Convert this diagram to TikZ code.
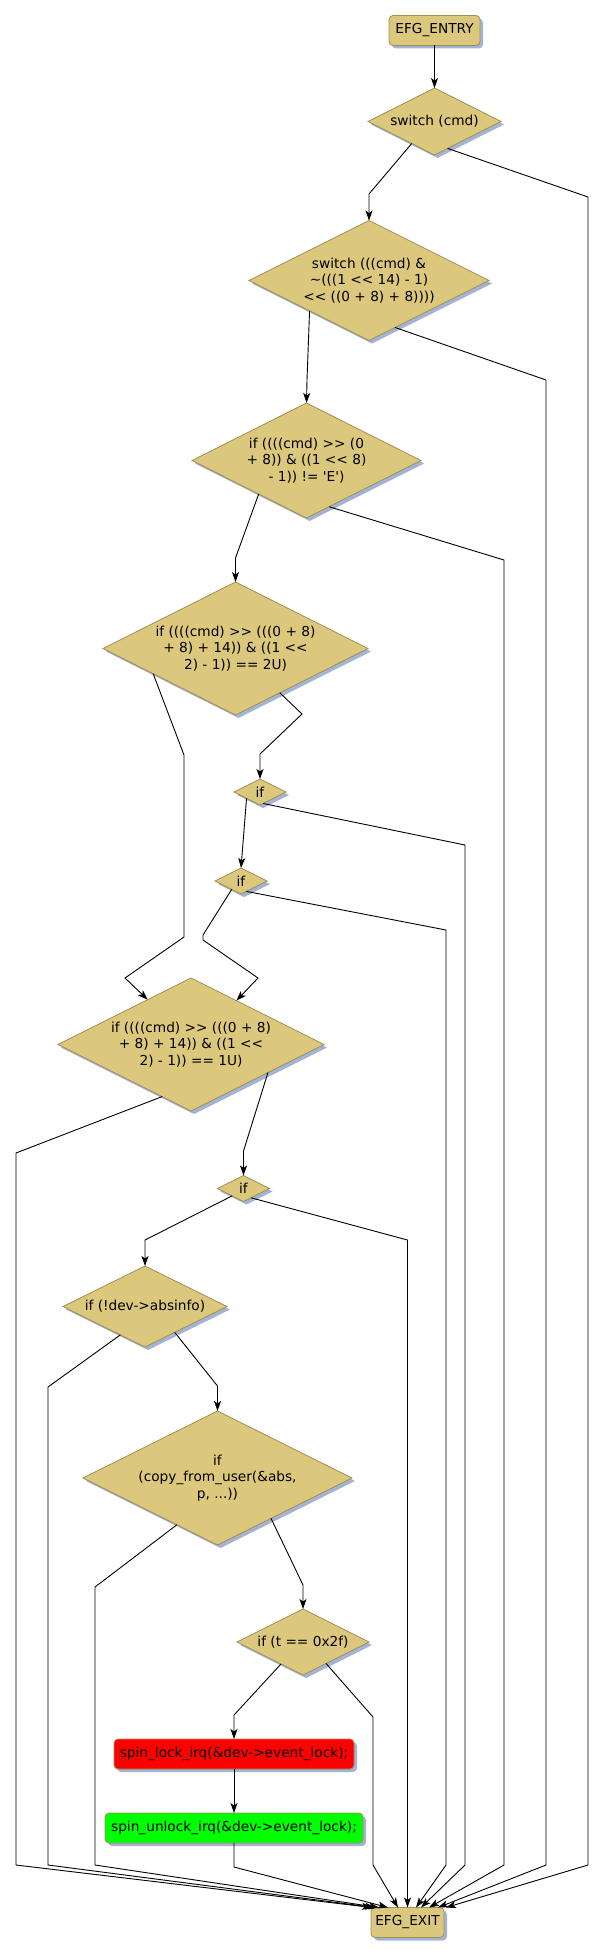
\documentclass[tikz,border=0pt]{standalone}
\usepackage{fontspec}
\setmainfont{DejaVu Sans}
\usetikzlibrary{arrows.meta,shapes.geometric,shadows}
\definecolor{tanfill}{HTML}{DCC87D}
\definecolor{tanline}{HTML}{A08F55}
\definecolor{shade}{HTML}{A3B3D3}
\definecolor{redfill}{HTML}{FF0000}
\definecolor{greenfill}{HTML}{00FF00}
\begin{document}
\begin{tikzpicture}[x=1pt,y=-1pt,
  shadowed/.style={drop shadow={shadow xshift=3pt,shadow yshift=-3pt,fill=shade,opacity=1}},
  dia/.style={diamond,draw=tanline,fill=tanfill,line width=0.8pt,inner sep=0pt,outer sep=0pt,shadowed},
  box/.style={rectangle,rounded corners=4pt,draw=tanline,fill=tanfill,line width=0.8pt,inner sep=0pt,outer sep=0pt,shadowed,minimum height=30pt,font=\fontsize{13.7}{16.5}\selectfont},
  txt/.style={font=\fontsize{13.7}{16.5}\selectfont,align=center,inner sep=0pt},
  conn/.style={line width=0.9pt,-{Stealth[length=10pt,width=7pt,inset=2.5pt]}}
]
\useasboundingbox (0,0) rectangle (604,1956);

% nodes
\node[box,minimum width=91pt] (entry) at (434.5,30.5) {EFG\_ENTRY};

\node[dia,minimum width=133pt,minimum height=67pt] (d1) at (434.5,121.5) {};
\node[txt] (t1) at (d1.center) {switch (cmd)};

\node[dia,minimum width=240pt,minimum height=120pt] (d2) at (369,280.5) {};
\node[txt] (t2) at (d2.center) {switch (((cmd) \&\\\textasciitilde(((1 <{}< 14) - 1)\\<{}< ((0 + 8) + 8))))};

\node[dia,minimum width=229pt,minimum height=115pt] (d3) at (306.5,460.5) {};
\node[txt] (t3) at (d3.center) {if ((((cmd) >{}> (0\\+ 8)) \& ((1 <{}< 8)\\- 1)) != \textquotesingle E\textquotesingle)};

\node[dia,minimum width=265pt,minimum height=133pt] (d4) at (235.5,648.5) {};
\node[txt] (t4) at (d4.center) {if ((((cmd) >{}> (((0 + 8)\\+ 8) + 14)) \& ((1 <{}<\\2) - 1)) == 2U)};

\node[dia,minimum width=52pt,minimum height=26pt] (d5) at (260,792) {};
\node[txt] (t5) at (d5.center) {if};

\node[dia,minimum width=52pt,minimum height=26pt] (d6) at (241,881) {};
\node[txt] (t6) at (d6.center) {if};

\node[dia,minimum width=266pt,minimum height=133pt] (d7) at (191,1044.5) {};
\node[txt] (t7) at (d7.center) {if ((((cmd) >{}> (((0 + 8)\\+ 8) + 14)) \& ((1 <{}<\\2) - 1)) == 1U)};

\node[dia,minimum width=52pt,minimum height=26pt] (d8) at (243.5,1188.5) {};
\node[txt] (t8) at (d8.center) {if};

\node[dia,minimum width=164pt,minimum height=81pt] (d9) at (145,1306.5) {};
\node[txt] (t9) at (d9.center) {if (!dev->absinfo)};

\node[dia,minimum width=269pt,minimum height=134pt] (d10) at (217.5,1478) {};
\node[txt] (t10) at (d10.center) {if\\(copy\_from\_user(\&abs,\\p, ...))};

\node[dia,minimum width=132pt,minimum height=66pt] (d11) at (303,1642) {};
\node[txt] (t11) at (d11.center) {if (t == 0x2f)};

\node[box,fill=redfill,minimum width=240pt] (lock) at (234,1754) {spin\_lock\_irq(\&dev->event\_lock);};
\node[box,fill=greenfill,minimum width=258pt] (unlock) at (234,1828) {spin\_unlock\_irq(\&dev->event\_lock);};

\node[box,minimum width=73pt] (exit) at (407.5,1922.5) {EFG\_EXIT};

% arrival points on EFG_EXIT
\coordinate (x1) at ([xshift=-35.5pt]exit.north);
\coordinate (x2) at ([xshift=-32.5pt]exit.north);
\coordinate (x3) at ([xshift=-28.5pt]exit.north);
\coordinate (x4) at ([xshift=-19.5pt]exit.north);
\coordinate (x5) at ([xshift=-9.5pt]exit.north);
\coordinate (x6) at ([xshift=0pt]exit.north);
\coordinate (x7) at ([xshift=8.5pt]exit.north);
\coordinate (x8) at ([xshift=13.5pt]exit.north);
\coordinate (x9) at ([xshift=21.5pt]exit.north);
\coordinate (x10) at ([xshift=30.5pt]exit.north);
\coordinate (x11) at ([xshift=38.5pt]exit.north);

% connectors
\draw[conn] (entry) -- (d1);
\draw[conn] (d1.224) -- (369,194) -- (d2.north);
\draw[conn] (d1.296) -- (588,197) -- (588,1865) -- (x11);

\draw[conn] (d2.207) -- (307,380) -- (d3.north);
\draw[conn] (d2.299) -- (546,380) -- (546,1865) -- (x10);

\draw[conn] (d3.215) -- (235.5,558) -- (d4.north);
\draw[conn] (d3.296) -- (504,560) -- (504,1865) -- (x9);

\draw[conn] (d4.197) -- (184,755) -- (184,937) -- (125,978) -- (d7.134);
\draw[conn] (d4.315.6) -- (302,714) -- (260,754) -- (d5.north);

\draw[conn] (d5.205) -- (d6.north);
\draw[conn] (d5.285) -- (465,845) -- (465,1865) -- (x8);

\draw[conn] (d6.222) -- (203,935) -- (203,940) -- (258,978) -- (d7.44);
\draw[conn] (d6.297) -- (446,930) -- (446,1865) -- (x7);

\draw[conn] (d7.241.5) -- (16,1153) -- (16,1865) -- (x1);
\draw[conn] (d7.340.6) -- (243.5,1151) -- (d8.north);

\draw[conn] (d8.213) -- (145,1240) -- (d9.north);
\draw[conn] (d8.309) -- (407.5,1240) -- (x6);

\draw[conn] (d9.229) -- (48,1387) -- (48,1865) -- (x2);
\draw[conn] (d9.319.6) -- (217.5,1386) -- (d10.north);

\draw[conn] (d10.229.2) -- (95,1587) -- (95,1865) -- (x3);
\draw[conn] (d10.323.7) -- (303,1585) -- (d11.north);

\draw[conn] (d11.225) -- (234,1715) -- (lock.north);
\draw[conn] (d11.317.5) -- (373,1717) -- (373,1865) -- (x5);

\draw[conn] (lock) -- (unlock);
\draw[conn] (unlock.south) -- (234,1867) -- (x4);
\end{tikzpicture}
\end{document}
